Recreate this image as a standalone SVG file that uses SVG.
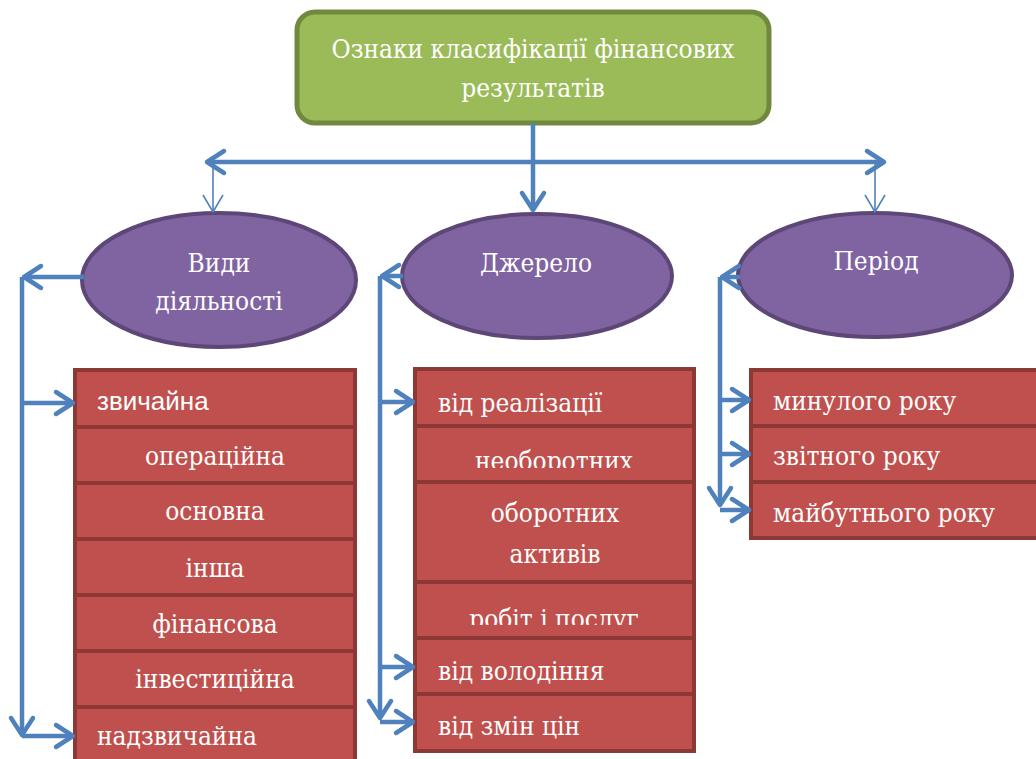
<svg xmlns="http://www.w3.org/2000/svg" width="1036" height="759" viewBox="0 0 1036 759">
<style>
.title{fill:#9BBB59;stroke:#71893F;stroke-width:5}
.ell{fill:#8064A2;stroke:#5C4776;stroke-width:4}
.box{fill:#C0504D;stroke:#8C3836;stroke-width:4}
.t{font-family:'DejaVu Serif Condensed','DejaVu Serif',serif;font-stretch:condensed;font-size:26px;fill:#FFFFFF}
.s{font-family:'Liberation Sans',Arial,sans-serif;font-size:26px;fill:#FFFFFF}
.c{text-anchor:middle}
.ln{fill:none;stroke:#4F81BD;stroke-width:4.5}
.thin{fill:none;stroke:#4F81BD;stroke-width:1.6}
</style>
<defs>
<marker id="ah" markerUnits="userSpaceOnUse" viewBox="0 0 22 26" refX="20" refY="13" markerWidth="22" markerHeight="26" orient="auto-start-reverse" overflow="visible">
<path d="M3,2 L20,13 L3,24" fill="none" stroke="#4F81BD" stroke-width="4.5" stroke-linecap="round" stroke-linejoin="round"/>
</marker>
<marker id="at" markerUnits="userSpaceOnUse" viewBox="0 0 20 22" refX="18" refY="11" markerWidth="20" markerHeight="22" orient="auto" overflow="visible">
<path d="M1,1 L18,11 L1,21" fill="none" stroke="#4F81BD" stroke-width="1.6"/>
</marker>
<clipPath id="c1"><rect x="413" y="420" width="282" height="48"/></clipPath>
<clipPath id="c2"><rect x="413" y="580" width="282" height="45"/></clipPath>
</defs>

<g id="node-root">
<rect class="title" x="297" y="12" width="472" height="111" rx="18"/>
<text class="t c" x="533" y="58">Ознаки класифікації фінансових</text>
<text class="t c" x="533" y="97">результатів</text>
</g>

<g id="node-vydy">
<ellipse class="ell" cx="219" cy="280" rx="137" ry="67"/>
<text class="t c" x="219" y="272">Види</text>
<text class="t c" x="219" y="310">діяльності</text>
</g>
<g id="node-dzherelo">
<ellipse class="ell" cx="537" cy="276" rx="135" ry="62"/>
<text class="t c" x="536" y="272">Джерело</text>
</g>
<g id="node-period">
<ellipse class="ell" cx="875" cy="275" rx="137" ry="62"/>
<text class="t c" x="876" y="270">Період</text>
</g>

<g id="node-left-list">
<rect class="box" x="75" y="370" width="280" height="57"/>
<text class="s" x="97" y="410">звичайна</text>
<rect class="box" x="75" y="427" width="280" height="56"/>
<text class="t c" x="215" y="465">операційна</text>
<rect class="box" x="75" y="483" width="280" height="56"/>
<text class="t c" x="215" y="520">основна</text>
<rect class="box" x="75" y="539" width="280" height="56"/>
<text class="t c" x="215" y="577">інша</text>
<rect class="box" x="75" y="595" width="280" height="56"/>
<text class="t c" x="215" y="633">фінансова</text>
<rect class="box" x="75" y="651" width="280" height="56"/>
<text class="t c" x="215" y="688">інвестиційна</text>
<rect class="box" x="75" y="707" width="280" height="60"/>
<text class="t" x="97" y="745">надзвичайна</text>
</g>

<g id="node-middle-list">
<rect class="box" x="415" y="369" width="279" height="57"/>
<text class="t" x="438" y="412">від реалізації</text>
<rect class="box" x="415" y="426" width="279" height="56"/>
<text class="t c" x="554" y="470" clip-path="url(#c1)">необоротних</text>
<rect class="box" x="415" y="482" width="279" height="100"/>
<text class="t c" x="555" y="522">оборотних</text>
<text class="t c" x="555" y="563">активів</text>
<rect class="box" x="415" y="582" width="279" height="56"/>
<text class="t c" x="554" y="628" clip-path="url(#c2)">робіт і послуг</text>
<rect class="box" x="415" y="638" width="279" height="56"/>
<text class="t" x="438" y="680">від володіння</text>
<rect class="box" x="415" y="694" width="279" height="57"/>
<text class="t" x="438" y="735">від змін цін</text>
</g>

<g id="node-right-list">
<rect class="box" x="751" y="370" width="300" height="56"/>
<text class="t" x="773" y="410">минулого року</text>
<rect class="box" x="751" y="426" width="300" height="56"/>
<text class="t" x="773" y="465">звітного року</text>
<rect class="box" x="751" y="482" width="300" height="56"/>
<text class="t" x="773" y="522">майбутнього року</text>
</g>

<g id="connectors">
<path class="ln" d="M533,123 V210" marker-end="url(#ah)"/>
<path class="ln" d="M207,162 H884" marker-start="url(#ah)" marker-end="url(#ah)"/>
<path class="thin" d="M213,162 V212" marker-end="url(#at)"/>
<path class="thin" d="M875,162 V212" marker-end="url(#at)"/>

<path class="ln" d="M84,277 H24" marker-end="url(#ah)"/>
<path class="ln" d="M22,277 V735" marker-end="url(#ah)"/>
<path class="ln" d="M22,403 H73" marker-end="url(#ah)"/>
<path class="ln" d="M22,736 H73" marker-end="url(#ah)"/>

<path class="ln" d="M403,276 H382" marker-end="url(#ah)"/>
<path class="ln" d="M380,276 V718" marker-end="url(#ah)"/>
<path class="ln" d="M380,402 H413" marker-end="url(#ah)"/>
<path class="ln" d="M380,667 H413" marker-end="url(#ah)"/>
<path class="ln" d="M380,722 H413" marker-end="url(#ah)"/>

<path class="ln" d="M740,277 H722" marker-end="url(#ah)"/>
<path class="ln" d="M720,277 V505" marker-end="url(#ah)"/>
<path class="ln" d="M720,400 H749" marker-end="url(#ah)"/>
<path class="ln" d="M720,454 H749" marker-end="url(#ah)"/>
<path class="ln" d="M720,510 H749" marker-end="url(#ah)"/>
</g>
</svg>
